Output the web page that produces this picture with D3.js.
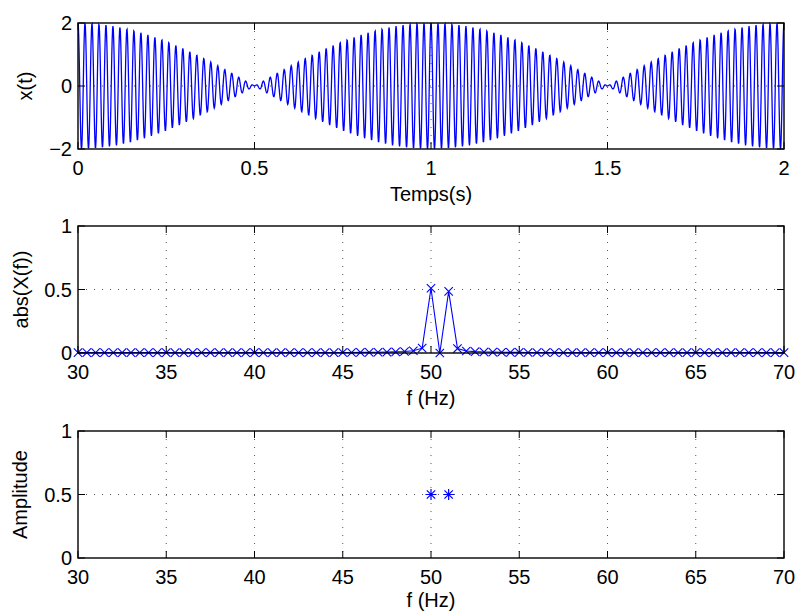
<!DOCTYPE html>
<html><head><meta charset="utf-8">
<script src="https://cdn.jsdelivr.net/npm/d3@7"></script>
<style>
body{margin:0;background:#fff}
svg{display:block;background:#fff}
text{font-family:"Liberation Sans",Arial,Helvetica,sans-serif;font-size:20px;fill:#000}
</style>
</head><body>
<svg id="c" width="796" height="612"></svg>
<script>
// ---------- data ----------
const timeTicks = [0, 0.5, 1, 1.5, 2];
const signalTicks = [-2, 0, 2];
const freqTicks = [30, 35, 40, 45, 50, 55, 60, 65, 70];
const magTicks = [0, 0.5, 1];

// spectrum bins (Hz) and |X(f)|
const specFreqs = [30,30.5,31,31.5,32,32.5,33,33.5,34,34.5,35,35.5,36,36.5,37,37.5,38,38.5,39,39.5,
  40,40.5,41,41.5,42,42.5,43,43.5,44,44.5,45,45.5,46,46.5,47,47.5,48,48.5,49,49.5,
  50,50.5,51,51.5,52,52.5,53,53.5,54,54.5,55,55.5,56,56.5,57,57.5,58,58.5,59,59.5,
  60,60.5,61,61.5,62,62.5,63,63.5,64,64.5,65,65.5,66,66.5,67,67.5,68,68.5,69,69.5,70];
const specMag = [0.003,0.003,0.003,0.003,0.003,0.003,0.003,0.003,0.003,0.003,0.003,0.003,0.003,0.003,0.003,0.003,0.003,0.003,0.003,0.003,
  0.003,0.003,0.003,0.003,0.003,0.003,0.003,0.003,0.003,0.003,0.004,0.004,0.005,0.005,0.006,0.007,0.009,0.012,0.018,0.038,
  0.51,0.0,0.485,0.035,0.016,0.011,0.008,0.007,0.006,0.005,0.005,0.004,0.004,0.004,0.004,0.003,0.003,0.003,0.003,0.003,
  0.003,0.003,0.003,0.003,0.003,0.003,0.003,0.003,0.003,0.003,0.003,0.003,0.003,0.003,0.003,0.003,0.003,0.003,0.003,0.003,0.003];

// line spectrum
const lineFreqs = [50, 51];
const lineAmps = [0.5, 0.5];

// time signal of the top panel: the sum of the two read components (cosines, 2*amplitude each)
const sampleRate = 1000; // samples per second
const duration = 2;      // seconds
const timeSamples = d3.range(0, duration * sampleRate + 1).map(i => i / sampleRate);
const signalValues = timeSamples.map(t =>
  d3.sum(lineFreqs, (f, k) => 2 * lineAmps[k] * Math.cos(2 * Math.PI * f * t)));

// ---------- layout ----------
const svg = d3.select("#c");
const L = 78, R = 784;
const panels = [
  {top: 23, bottom: 149, labelOff: 52},
  {top: 226, bottom: 353, labelOff: 52},
  {top: 431, bottom: 558, labelOff: 49}
];
const blue = "#0000ff";

function frame(p, x, y, xt, yt) {
  const g = svg.append("g");
  g.selectAll(".gx").data(xt.filter(v => v !== x.domain()[0] && v !== x.domain()[1]))
    .enter().append("line")
    .attr("x1", d => x(d)).attr("x2", d => x(d))
    .attr("y1", p.top).attr("y2", p.bottom)
    .attr("stroke", "#555").attr("stroke-width", 1).attr("stroke-dasharray", "1,7");
  g.selectAll(".gy").data(yt.filter(v => v !== y.domain()[0] && v !== y.domain()[1]))
    .enter().append("line")
    .attr("y1", d => y(d)).attr("y2", d => y(d))
    .attr("x1", L).attr("x2", R)
    .attr("stroke", "#555").attr("stroke-width", 1).attr("stroke-dasharray", "1,7");
  return g;
}

function box(p, x, y, xt, yt, xfmt, yfmt, xlabel, ylabel, ylabelX) {
  const g = svg.append("g");
  const tl = 7;
  xt.forEach(v => {
    g.append("line").attr("x1", x(v)).attr("x2", x(v)).attr("y1", p.bottom).attr("y2", p.bottom - tl)
      .attr("stroke", "#000").attr("stroke-width", 1);
    g.append("line").attr("x1", x(v)).attr("x2", x(v)).attr("y1", p.top).attr("y2", p.top + tl)
      .attr("stroke", "#000").attr("stroke-width", 1);
    g.append("text").attr("x", x(v)).attr("y", p.bottom + 26).attr("text-anchor", "middle").text(xfmt(v));
  });
  yt.forEach(v => {
    g.append("line").attr("x1", L).attr("x2", L + tl).attr("y1", y(v)).attr("y2", y(v))
      .attr("stroke", "#000").attr("stroke-width", 1);
    g.append("line").attr("x1", R).attr("x2", R - tl).attr("y1", y(v)).attr("y2", y(v))
      .attr("stroke", "#000").attr("stroke-width", 1);
    g.append("text").attr("x", L - 6).attr("y", y(v)).attr("dy", "0.36em").attr("text-anchor", "end").text(yfmt(v));
  });
  g.append("rect").attr("x", L).attr("y", p.top).attr("width", R - L).attr("height", p.bottom - p.top)
    .attr("fill", "none").attr("stroke", "#000").attr("stroke-width", 1.4);
  g.append("text").attr("x", (L + R) / 2).attr("y", p.bottom + p.labelOff).attr("text-anchor", "middle").text(xlabel);
  g.append("text").attr("transform", `translate(${ylabelX},${(p.top + p.bottom) / 2}) rotate(-90)`)
    .attr("text-anchor", "middle").text(ylabel);
}

const numFmt = v => (v < 0 ? "\u2212" + Math.abs(v) : String(v));

// ---------- panel 1: x(t) ----------
{
  const p = panels[0];
  const x = d3.scaleLinear().domain([0, 2]).range([L, R]);
  const y = d3.scaleLinear().domain([-2, 2]).range([p.bottom, p.top]);
  frame(p, x, y, timeTicks, signalTicks);
  svg.append("clipPath").attr("id", "clip1").append("rect")
    .attr("x", L).attr("y", p.top - 1).attr("width", R - L).attr("height", p.bottom - p.top + 2);
  svg.append("path").datum(timeSamples.map((t, i) => [t, signalValues[i]]))
    .attr("clip-path", "url(#clip1)")
    .attr("fill", "none").attr("stroke", blue).attr("stroke-width", 1.3)
    .attr("d", d3.line().x(d => x(d[0])).y(d => y(d[1])));
  box(p, x, y, timeTicks, signalTicks, numFmt, numFmt, "Temps(s)", "x(t)", 32);
}

// ---------- panel 2: abs(X(f)) ----------
{
  const p = panels[1];
  const x = d3.scaleLinear().domain([30, 70]).range([L, R]);
  const y = d3.scaleLinear().domain([0, 1]).range([p.bottom, p.top]);
  frame(p, x, y, freqTicks, magTicks);
  const pts = specFreqs.map((f, i) => [f, specMag[i]]);
  svg.append("path").datum(pts)
    .attr("fill", "none").attr("stroke", blue).attr("stroke-width", 1.1)
    .attr("d", d3.line().x(d => x(d[0])).y(d => y(d[1])));
  const s = 4.2;
  const mk = svg.append("g").attr("stroke", blue).attr("stroke-width", 1.1).attr("fill", "none");
  mk.selectAll("path").data(pts).enter().append("path")
    .attr("d", d => {
      const cx = x(d[0]), cy = y(d[1]);
      return `M${cx - s},${cy - s}L${cx + s},${cy + s}M${cx - s},${cy + s}L${cx + s},${cy - s}`;
    });
  box(p, x, y, freqTicks, magTicks, numFmt, numFmt, "f (Hz)", "abs(X(f))", 28);
}

// ---------- panel 3: Amplitude ----------
{
  const p = panels[2];
  const x = d3.scaleLinear().domain([30, 70]).range([L, R]);
  const y = d3.scaleLinear().domain([0, 1]).range([p.bottom, p.top]);
  frame(p, x, y, freqTicks, magTicks);
  const s = 5.5, sd = 4.2;
  const mk = svg.append("g").attr("stroke", blue).attr("stroke-width", 1.2).attr("fill", "none");
  mk.selectAll("path").data(lineFreqs.map((f, i) => [f, lineAmps[i]])).enter().append("path")
    .attr("d", d => {
      const cx = x(d[0]), cy = y(d[1]);
      return `M${cx},${cy - s}L${cx},${cy + s}M${cx - s},${cy}L${cx + s},${cy}` +
             `M${cx - sd},${cy - sd}L${cx + sd},${cy + sd}M${cx - sd},${cy + sd}L${cx + sd},${cy - sd}`;
    });
  box(p, x, y, freqTicks, magTicks, numFmt, numFmt, "f (Hz)", "Amplitude", 27);
}
</script>
</body></html>
